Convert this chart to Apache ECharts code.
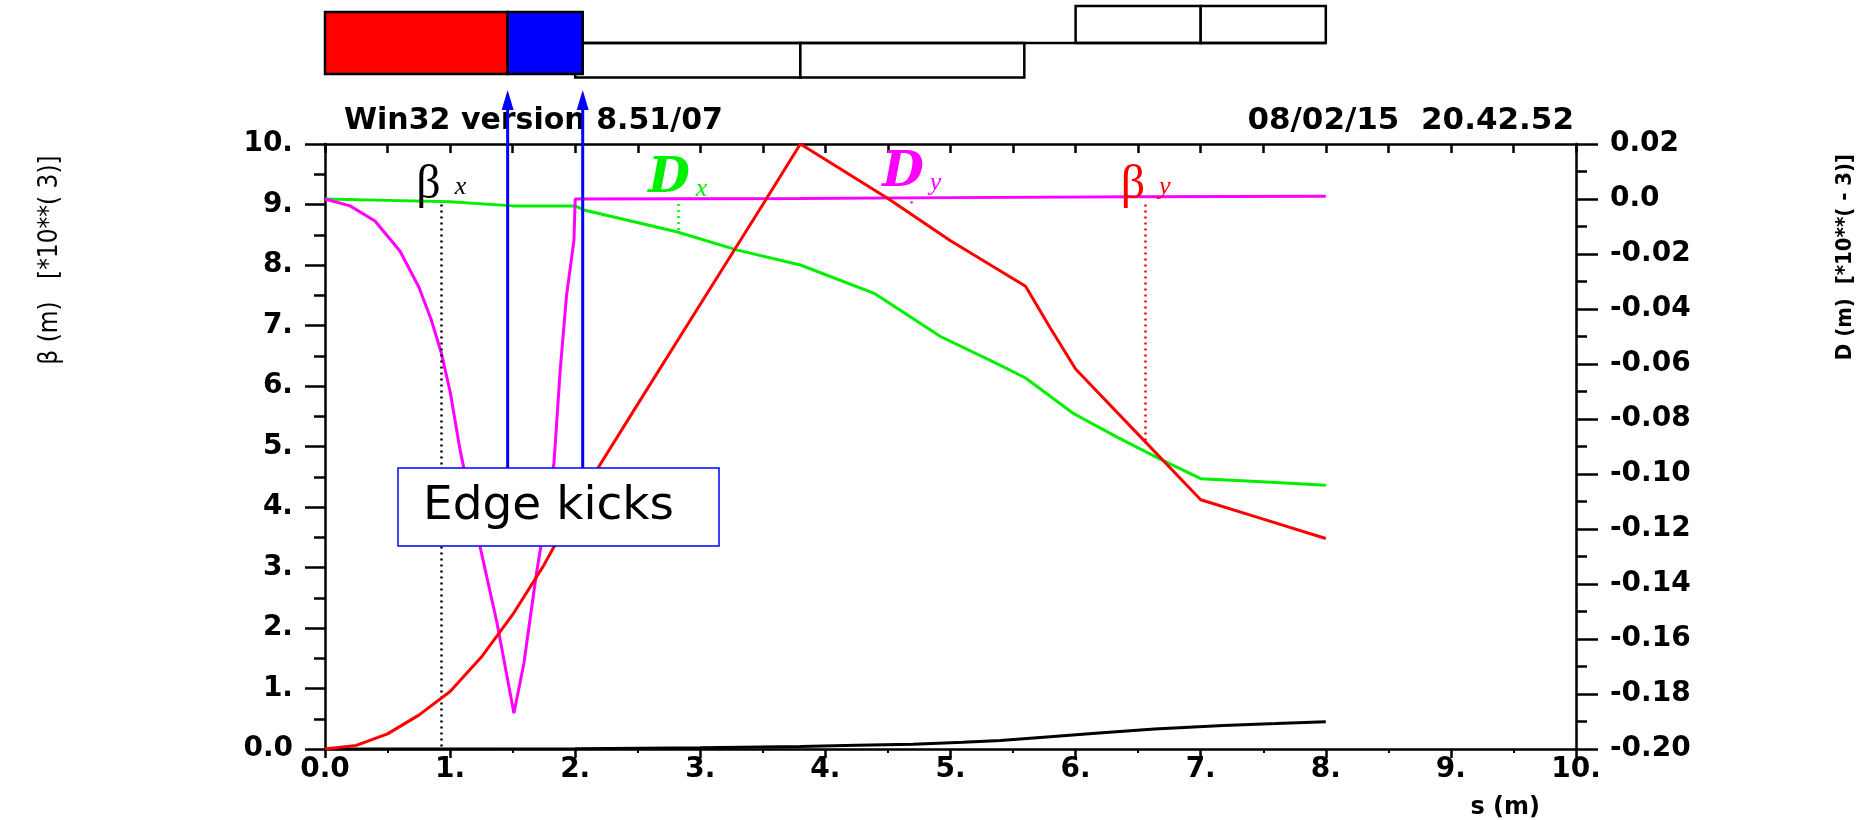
<!DOCTYPE html>
<html>
<head>
<meta charset="utf-8">
<title>Optics: beta and dispersion functions</title>
<script src="https://cdn.jsdelivr.net/npm/echarts@6.0.0/dist/echarts.min.js"></script>
<style>
  html, body { margin: 0; padding: 0; background: #ffffff; }
  #main { width: 1872px; height: 820px; }
</style>
</head>
<body>
<div id="main"></div>
<script>
// ---- Optics along the line (s in m) ----
// beta functions in units of 10^3 m
const sBetaX = [0, 1.0, 2.0, 2.28, 3.0, 3.8, 4.25, 4.7, 5.1, 5.4, 5.77, 6.16, 6.63, 7.18, 7.6, 8.0];
const betaX  = [0.0, 0.0, 0.003, 0.008, 0.02, 0.04, 0.06, 0.08, 0.11, 0.14, 0.2, 0.26, 0.33, 0.39, 0.42, 0.45];

const sBetaY = [0, 0.25, 0.5, 0.75, 1.0, 1.25, 1.5, 1.75, 2.0, 2.06, 2.5, 3.0, 3.5, 3.8, 4.5, 5.0, 5.6, 5.8, 6.0, 6.5, 7.0, 7.5, 8.0];
const betaY  = [0.0, 0.06, 0.25, 0.56, 0.95, 1.52, 2.22, 3.04, 3.98, 4.24, 5.7, 7.35, 9.0, 10.0, 9.1, 8.4, 7.65, 6.95, 6.28, 5.2, 4.12, 3.8, 3.48];

// dispersion functions in units of 10^-3 m
const sDx   = [0, 0.5, 1.0, 1.5, 2.0, 2.07, 2.81, 3.29, 3.8, 4.39, 4.92, 5.4, 5.6, 5.98, 6.32, 6.66, 7.0, 7.49, 8.0];
const dispX = [0.0, -0.0005, -0.001, -0.0025, -0.0025, -0.004, -0.0119, -0.0185, -0.024, -0.0343, -0.050, -0.0605, -0.0651, -0.0779, -0.0863, -0.0942, -0.1017, -0.1028, -0.1041];

const sDy   = [0, 0.2, 0.4, 0.6, 0.75, 0.85, 0.93, 1.0, 1.08, 1.24, 1.375, 1.51, 1.59, 1.69, 1.77, 1.83, 1.88, 1.93, 1.99, 2.0, 3.8, 5.0, 6.5, 8.0];
const dispY = [0.0, -0.0025, -0.008, -0.019, -0.032, -0.044, -0.056, -0.07, -0.0913, -0.1265, -0.1542, -0.187, -0.1688, -0.1362, -0.1142, -0.0962, -0.0623, -0.0354, -0.015, 0.0, 0.0002, 0.0005, 0.0008, 0.001];

// axis tick labels
const sTickLabels    = ['0.0', '1.', '2.', '3.', '4.', '5.', '6.', '7.', '8.', '9.', '10.'];
const betaTickLabels = ['0.0', '1.', '2.', '3.', '4.', '5.', '6.', '7.', '8.', '9.', '10.'];
const dTickLabels    = ['-0.20', '-0.18', '-0.16', '-0.14', '-0.12', '-0.10', '-0.08', '-0.06', '-0.04', '-0.02', '0.0', '0.02'];

// lattice elements: start / end position and element kind
const latticeKind = ['quadD', 'quadD', 'quadF', 'quadF', 'bend', 'edge', 'beamline'];
const latticeFrom = [2.0, 3.8, 6.0, 7.0, 0.0, 1.46, 2.06];
const latticeTo   = [3.8, 5.59, 7.0, 8.0, 1.46, 2.06, 8.0];

// positions of the edge kicks
const kickS = [1.46, 2.06];

// s positions of the curve tags
const tagS = { betaX: 0.93, dispX: 2.82, dispY: 4.69, betaY: 6.56 };

const pairs = (xs, ys) => xs.map((x, i) => [x, ys[i]]);

const tickFont = { fontFamily: 'DejaVu Sans', fontWeight: 'bold', fontSize: 28, color: '#000' };
const blackLine = { color: '#000', width: 2.5 };

function tagLabel(main, sub, color, isD, position) {
  return {
    show: true,
    position: position || 'start',
    distance: isD ? 0 : -5,
    formatter: '{m|' + main + '}{s|' + sub + '}',
    rich: {
      m: isD
        ? { fontFamily: 'DejaVu Serif', fontSize: 48, fontStyle: 'italic', fontWeight: 'bold', color: color }
        : { fontFamily: 'Liberation Serif', fontSize: 48, color: color },
      s: {
        fontFamily: 'Liberation Serif', fontSize: 26, fontStyle: 'italic', color: color,
        verticalAlign: 'bottom', padding: [0, 0, isD ? 2 : 9, isD ? 6 : 14]
      }
    }
  };
}

const chart = echarts.init(document.getElementById('main'), null, { renderer: 'canvas' });

const option = {
  backgroundColor: '#ffffff',
  animation: false,
  grid: [
    { left: 325, top: 144, right: 296, bottom: 71, containLabel: false },
    { left: 325, top: 6, right: 296, height: 72, containLabel: false }
  ],
  xAxis: [
    {
      type: 'value', gridIndex: 0, position: 'bottom', min: 0, max: 10, interval: 1,
      axisLine: { show: true, onZero: false, lineStyle: blackLine },
      axisTick: { show: true, inside: false, length: 9, lineStyle: blackLine },
      minorTick: { show: true, splitNumber: 2, length: 4, lineStyle: { color: '#000', width: 2 } },
      splitLine: { show: false },
      axisLabel: Object.assign({ margin: 7, formatter: v => sTickLabels[Math.round(v)] }, tickFont)
    },
    {
      type: 'value', gridIndex: 0, position: 'top', min: 0, max: 10, interval: 0.5,
      axisLine: { show: true, onZero: false, lineStyle: blackLine },
      axisTick: { show: true, inside: true, length: 9, lineStyle: blackLine },
      splitLine: { show: false },
      axisLabel: { show: false }
    },
    {
      type: 'value', gridIndex: 1, min: 0, max: 10, show: false
    }
  ],
  yAxis: [
    {
      type: 'value', gridIndex: 0, position: 'left', min: 0, max: 10, interval: 1,
      axisLine: { show: true, onZero: false, lineStyle: blackLine },
      axisTick: { show: true, inside: false, length: 20, lineStyle: blackLine },
      minorTick: { show: true, splitNumber: 2, length: 11, lineStyle: blackLine },
      splitLine: { show: false },
      axisLabel: Object.assign({ margin: 32, formatter: v => betaTickLabels[Math.round(v)] }, tickFont)
    },
    {
      type: 'value', gridIndex: 0, position: 'right', min: -0.2, max: 0.02, interval: 0.02,
      axisLine: { show: true, onZero: false, lineStyle: blackLine },
      axisTick: { show: true, inside: false, length: 22, lineStyle: blackLine },
      minorTick: { show: true, splitNumber: 2, length: 11, lineStyle: blackLine },
      splitLine: { show: false },
      axisLabel: Object.assign({ margin: 34, align: 'left', formatter: v => dTickLabels[Math.round((v + 0.2) / 0.02)] }, tickFont)
    },
    {
      type: 'value', gridIndex: 1, min: 0, max: 1, show: false
    }
  ],
  series: [
    {
      name: 'Dx', type: 'line', xAxisIndex: 0, yAxisIndex: 1, symbol: 'none', z: 3,
      data: pairs(sDx, dispX),
      lineStyle: { color: '#00f000', width: 3 },
      markLine: {
        silent: true, symbol: ['none', 'none'], animation: false,
        lineStyle: { color: '#00f000', type: [2, 4], width: 2.5 },
        label: tagLabel('D', 'x', '#00f000', true),
        data: [[{ coord: [tagS.dispX, -0.0018] }, { coord: [tagS.dispX, -0.0118] }]]
      }
    },
    {
      name: 'βx', type: 'line', xAxisIndex: 0, yAxisIndex: 0, symbol: 'none', z: 3,
      data: pairs(sBetaX, betaX),
      lineStyle: { color: '#000000', width: 3 },
      markLine: {
        silent: true, symbol: ['none', 'none'], animation: false,
        lineStyle: { color: '#000000', type: [2, 4], width: 2.5 },
        label: tagLabel('β', 'x', '#000000', false),
        data: [[{ coord: [tagS.betaX, 9.0] }, { coord: [tagS.betaX, 0.0] }]]
      }
    },
    {
      name: 'Dy', type: 'line', xAxisIndex: 0, yAxisIndex: 1, symbol: 'none', z: 4,
      data: pairs(sDy, dispY),
      lineStyle: { color: '#ff00ff', width: 3 },
      markLine: {
        silent: true, symbol: ['none', 'none'], animation: false,
        lineStyle: { color: '#ff00ff', type: [2, 4], width: 2.5 },
        label: tagLabel('D', 'y', '#ff00ff', true, 'end'),
        data: [[{ coord: [tagS.dispY, -0.0016] }, { coord: [tagS.dispY, 0.0004] }]]
      }
    },
    {
      name: 'βy', type: 'line', xAxisIndex: 0, yAxisIndex: 0, symbol: 'none', z: 5,
      data: pairs(sBetaY, betaY),
      lineStyle: { color: '#ff0000', width: 3 },
      markLine: {
        silent: true, symbol: ['none', 'none'], animation: false,
        lineStyle: { color: '#ff0000', type: [2, 4], width: 2.5 },
        label: tagLabel('β', 'y', '#ff0000', false),
        data: [[{ coord: [tagS.betaY, 9.0] }, { coord: [tagS.betaY, 5.07] }]]
      }
    },
    {
      // lattice elements drawn above the plot
      name: 'lattice', type: 'custom', xAxisIndex: 2, yAxisIndex: 2, silent: true, clip: false,
      data: latticeFrom.map((f, i) => [f, latticeTo[i], i]),
      encode: { x: [0, 1] },
      renderItem: function (params, api) {
        const kind = latticeKind[api.value(2)];
        const x0 = api.coord([api.value(0), 0])[0];
        const x1 = api.coord([api.value(1), 0])[0];
        const top = params.coordSys.y;
        const mid = top + 37;
        const edge = { stroke: '#000', lineWidth: 2.5 };
        if (kind === 'beamline') {
          return { type: 'line', shape: { x1: x0, y1: mid, x2: x1, y2: mid }, style: edge };
        }
        let y, h, fill;
        if (kind === 'bend') { y = top + 6; h = 62; fill = '#ff0000'; }
        else if (kind === 'edge') { y = top + 6; h = 62; fill = '#0000ff'; }
        else if (kind === 'quadD') { y = mid; h = 34.5; fill = '#ffffff'; }
        else { y = top; h = 37; fill = '#ffffff'; }
        return {
          type: 'rect', shape: { x: x0, y: y, width: x1 - x0, height: h },
          style: Object.assign({ fill: fill }, edge)
        };
      }
    },
    {
      // edge kick arrows
      name: 'kicks', type: 'custom', xAxisIndex: 0, yAxisIndex: 0, silent: true, clip: false, z: 20,
      data: kickS.map(s => [s, 0]),
      renderItem: function (params, api) {
        const x = api.coord([api.value(0), 0])[0];
        return {
          type: 'group',
          children: [
            { type: 'line', shape: { x1: x, y1: 468, x2: x, y2: 106 }, style: { stroke: '#0000ff', lineWidth: 3 } },
            { type: 'polygon', shape: { points: [[x, 90], [x - 6, 110], [x + 6, 110]] }, style: { fill: '#0000ff' } }
          ]
        };
      }
    }
  ],
  graphic: [
    { type: 'text', x: 344, y: 121, z: 10,
      style: { text: 'Win32 version 8.51/07', font: 'bold 30px "DejaVu Sans"', fill: '#000', align: 'left', verticalAlign: 'middle' } },
    { type: 'text', x: 1574, y: 121, z: 10,
      style: { text: '08/02/15  20.42.52', font: 'bold 31px "DejaVu Sans"', fill: '#000', align: 'right', verticalAlign: 'middle' } },
    { type: 'text', x: 50, y: 260, rotation: Math.PI / 2, z: 10,
      style: { text: 'β (m)   [*10**( 3)]', font: '26px "DejaVu Sans Condensed"', fill: '#000', align: 'center', verticalAlign: 'middle' } },
    { type: 'text', x: 1845, y: 257, rotation: Math.PI / 2, z: 10,
      style: { text: 'D (m)  [*10**( - 3)]', font: 'bold 22px "DejaVu Sans Condensed"', fill: '#000', align: 'center', verticalAlign: 'middle' } },
    { type: 'text', x: 1540, y: 808, z: 10,
      style: { text: 's (m)', font: 'bold 24px "DejaVu Sans"', fill: '#000', align: 'right', verticalAlign: 'middle' } },
    { type: 'rect', z: 100, shape: { x: 398, y: 468, width: 321, height: 78 },
      style: { fill: '#ffffff', stroke: '#0000ff', lineWidth: 1.5 } },
    { type: 'text', x: 423, y: 507, z: 101,
      style: { text: 'Edge kicks', font: '47px "DejaVu Sans"', fill: '#000', align: 'left', verticalAlign: 'middle' } }
  ]
};

chart.setOption(option);
</script>
</body>
</html>
